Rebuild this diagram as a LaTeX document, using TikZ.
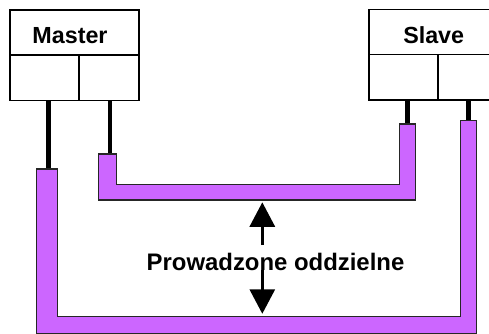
\documentclass[tikz,border=0pt]{standalone}
\usepackage{fontspec}
\setmainfont{Liberation Sans}
\usetikzlibrary{arrows.meta}
\definecolor{cable}{RGB}{204,102,255}
\tikzset{
  cell/.style={draw=black,line width=1.3pt,fill=white,inner sep=0pt,outer sep=0pt,anchor=north west},
  lbl/.style={font=\fontsize{23.3}{28}\selectfont\bfseries,inner sep=0pt,anchor=base},
  biglbl/.style={font=\fontsize{23.9}{28}\selectfont\bfseries,inner sep=0pt,anchor=base},
  cableshape/.style={fill=cable,draw=black!85,line width=1.3pt,line join=miter},
  thickwire/.style={line width=5pt},
  thinwire/.style={line width=3.8pt},
  sep/.style={line width=3pt,-{Triangle[length=24.5pt,width=25pt]}}
}
\begin{document}
\begin{tikzpicture}[x=1pt,y=-1pt]
\useasboundingbox[fill=white] (0,0) rectangle (489,333);
% Master box
\node[cell,minimum width=129pt,minimum height=45pt] (mh) at (10,10) {};
\node[cell,minimum width=69pt,minimum height=45.5pt] (ml) at (10,55) {};
\node[cell,minimum width=60pt,minimum height=45.5pt] (mr) at (79,55) {};
\node[lbl] (mt) at (70,43.3) {Master};
% Slave box
\node[cell,minimum width=130pt,minimum height=45pt] (sh) at (369,9.5) {};
\node[cell,minimum width=69pt,minimum height=45.5pt] (sl) at (369,54.5) {};
\node[cell,minimum width=60pt,minimum height=45.5pt] (sr) at (438,54.5) {};
\node[lbl] (st) at (433.7,43.3) {Slave};
% cables
\draw[cableshape] (36.7,169) -- (57.3,169) -- (57.3,316.7) -- (460.5,316.7) -- (460.5,120.7)
  -- (476.3,120.7) -- (476.3,334) -- (36.7,334) -- cycle;
\draw[cableshape] (98.3,154) -- (116.8,154) -- (116.8,184.3) -- (399.5,184.3) -- (399.5,124)
  -- (415.3,124) -- (415.3,200) -- (98.3,200) -- cycle;
% cable tops
\coordinate (c1) at (48.8,168.3);
\coordinate (c2) at (109.7,153.3);
\coordinate (c3) at (407.5,123.3);
\coordinate (c4) at (468.5,120);
% wires
\draw[thickwire] (ml.south -| c1) -- (c1);
\draw[thinwire] (mr.south -| c2) -- (c2);
\draw[thickwire] (sl.south -| c3) -- (c3);
\draw[thickwire] (sr.south -| c4) -- (c4);
% label and arrows
\node[biglbl] (txt) at (275.5,270.7) {Prowadzone oddzielne};
\coordinate (a0) at (262.3,245);
\coordinate (a1) at (262.3,202.3);
\coordinate (b0) at (262.3,270);
\coordinate (b1) at (262.3,313.8);
\draw[sep] (a0) -- (a1);
\draw[sep] (b0) -- (b1);
\end{tikzpicture}
\end{document}
